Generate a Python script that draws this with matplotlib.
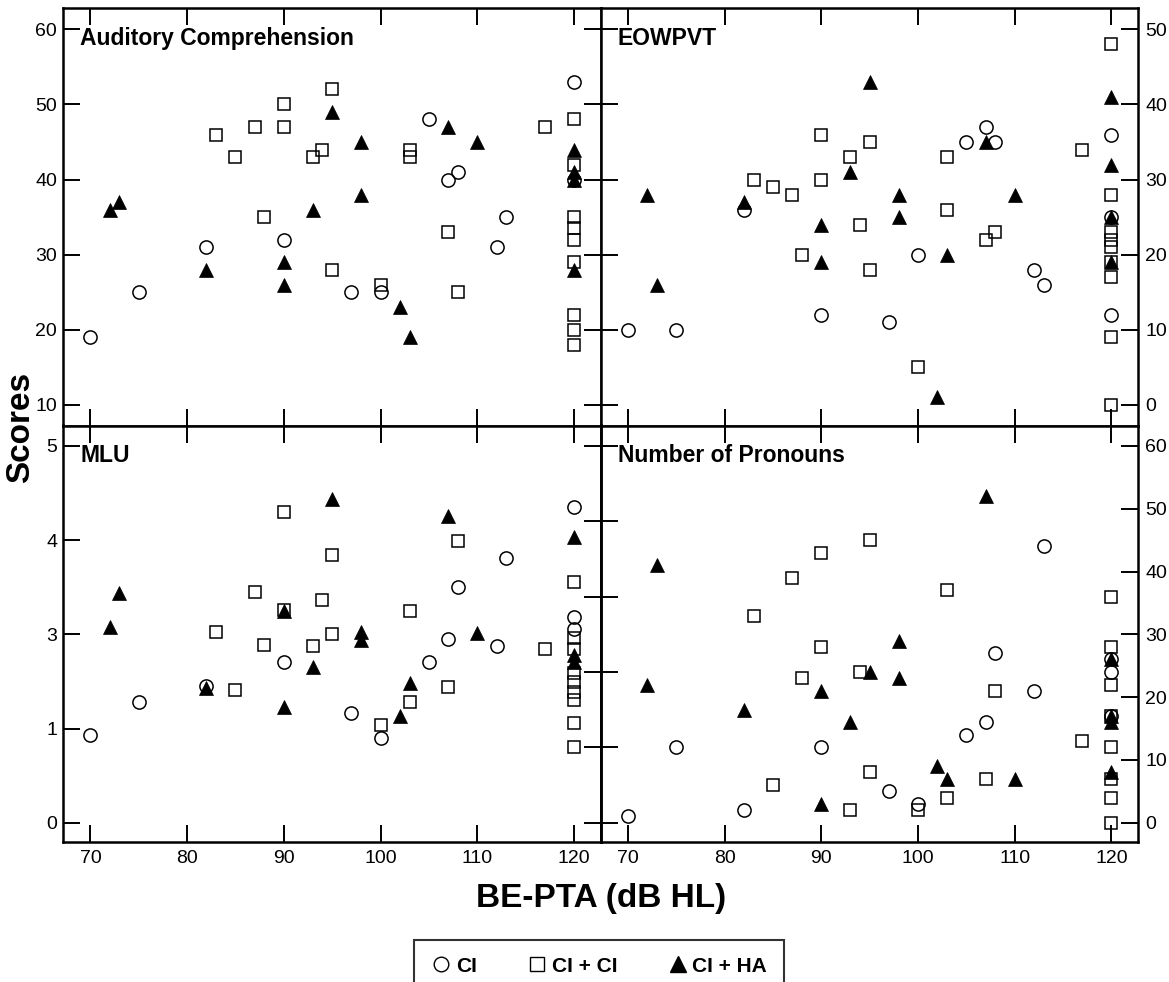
import matplotlib
matplotlib.use("Agg")
import matplotlib.pyplot as plt
from matplotlib.lines import Line2D

plt.rcParams['font.family'] = ['Liberation Sans', 'DejaVu Sans']

x_ticks = [70, 80, 90, 100, 110, 120]
group_labels = ['CI', 'CI + CI', 'CI + HA']

# x positions (BE-PTA) per group, shared by the four measures
ci_x = [70, 75, 82, 90, 97, 100, 105, 107, 108, 112, 113, 120, 120, 120]
cc_x = [83, 85, 87, 88, 90, 90, 93, 94, 95, 95, 100, 103, 103, 107, 108, 117,
        120, 120, 120, 120, 120, 120, 120, 120, 120]
ha_x = [72, 73, 82, 90, 90, 93, 95, 98, 98, 102, 103, 107, 110,
        120, 120, 120, 120]

# Auditory Comprehension
ac_ci = [19, 25, 31, 32, 25, 25, 48, 40, 41, 31, 35, 53, 40]
ac_cc = [46, 43, 47, 35, 50, 47, 43, 44, 52, 28, 26, 44, 43, 33, 25, 47,
         48, 42, 35, 33.6, 32, 29, 22, 20, 18]
ac_ha = [36, 37, 28, 29, 26, 36, 49, 45, 38, 23, 19, 47, 45, 44, 41, 40, 28]

# EOWPVT
eo_ci = [10, 10, 26, 12, 11, 20, 35, 37, 35, 18, 16, 36, 25, 12]
eo_cc = [30, 29, 28, 20, 36, 30, 33, 24, 35, 18, 5, 33, 26, 22, 23, 34,
         48, 28, 23, 22, 21, 19, 17, 9, 0]
eo_ha = [28, 16, 27, 24, 19, 31, 43, 28, 25, 1, 20, 35, 28, 41, 32, 25, 19]

# MLU
mlu_ci = [1.17, 1.60, 1.82, 2.13, 1.46, 1.13, 2.13, 2.44, 3.13, 2.34, 3.51,
          4.19, 2.73, 2.57]
mlu_cc = [2.53, 1.76, 3.06, 2.36, 4.13, 2.82, 2.35, 2.96, 3.55, 2.51, 1.30,
          2.81, 1.60, 1.80, 3.74, 2.30,
          3.20, 2.45, 2.30, 1.99, 1.87, 1.74, 1.63, 1.33, 1.00]
mlu_ha = [2.60, 3.05, 1.79, 2.81, 1.54, 2.07, 4.30, 2.53, 2.43, 1.42, 1.85,
          4.07, 2.52, 3.79, 2.23, 2.13]
mlu_ha_x = [72, 73, 82, 90, 90, 93, 95, 98, 98, 102, 103, 107, 110, 120, 120, 120]

# Number of Pronouns
np_ci = [1, 12, 2, 12, 5, 3, 14, 16, 27, 21, 44, 26, 24, 17]
np_cc = [33, 6, 39, 23, 43, 28, 2, 24, 45, 8, 2, 4, 37, 7, 21, 13,
         36, 28, 22, 17, 12, 7, 4, 0]
np_cc_x = cc_x[:-1]
np_ha = [22, 41, 18, 21, 3, 16, 24, 29, 23, 9, 7, 52, 7, 26, 17, 16, 8]

# axis scales
ac_ticks = [10, 20, 30, 40, 50, 60]
eo_ticks = [0, 10, 20, 30, 40, 50]
mlu_left_ticks = [0, 1.25, 2.5, 3.75, 5]
mlu_left_labels = ['0', '1', '3', '4', '5']
mlu_right_ticks = [0, 1, 2, 3, 4, 5]
np_ticks = [0, 10, 20, 30, 40, 50, 60]
np_left_ticks = [0, 12, 24, 36, 48, 60]

W, H = 1169, 982
fig = plt.figure(figsize=(W / 100, H / 100), dpi=100)

colx = [63.3 / W, 601 / W]
colw = [537.7 / W, 537.4 / W]
rowy = [1 - 425.5 / H, 1 - 842 / H]
rowh = [417.5 / H, 416.5 / H]

TL = 12
TW = 1.4
SW = 1.8


def make_axes(c, r):
    ax = fig.add_axes([colx[c], rowy[r], colw[c], rowh[r]])
    ax.set_xlim(67.2, 122.8)
    ax.set_xticks(x_ticks)
    ax.tick_params(axis='both', direction='in', length=TL, width=TW,
                   labelsize=14)
    ax.tick_params(axis='x', top=True, bottom=True, pad=6,
                   labelbottom=(r == 1))
    for s in ax.spines.values():
        s.set_linewidth(SW)
    return ax


def draw(ax, cx, cy, sx, sy, tx, ty):
    ax.plot(cx, cy, 'o', ls='none', ms=9.5, mfc='none', mec='black', mew=1.1)
    ax.plot(sx, sy, 's', ls='none', ms=9, mfc='none', mec='black', mew=1.1)
    ax.plot(tx, ty, '^', ls='none', ms=10, mfc='black', mec='black', mew=0.5)


def title(ax, text):
    ax.text(17 / 537.5, 0.928, text, transform=ax.transAxes, ha='left',
            va='center', fontsize=16.5, fontweight='bold')


def side_ticks(ax, where, ticks):
    sec = ax.secondary_yaxis(where)
    sec.set_yticks(ticks)
    sec.tick_params(direction='in', length=TL, width=TW,
                    labelleft=False, labelright=False)
    sec.spines[where].set_linewidth(SW)
    return sec


# Auditory Comprehension
ax1 = make_axes(0, 0)
ax1.set_ylim(7.27, 62.84)
ax1.set_yticks(ac_ticks)
ax1.tick_params(axis='y', left=True, right=True, labelleft=True,
                labelright=False, pad=4.5)
draw(ax1, ci_x[:-1], ac_ci, cc_x, ac_cc, ha_x, ac_ha)
title(ax1, 'Auditory Comprehension')

# EOWPVT
ax2 = make_axes(1, 0)
ax2.set_ylim(-2.73, 52.84)
ax2.set_yticks(eo_ticks)
ax2.tick_params(axis='y', left=True, right=True, labelleft=False,
                labelright=True, pad=5)
draw(ax2, ci_x, eo_ci, cc_x, eo_cc, ha_x, eo_ha)
title(ax2, 'EOWPVT')

# MLU
ax3 = make_axes(0, 1)
ax3.set_ylim(-0.256, 5.272)
ax3.set_yticks(mlu_left_ticks)
ax3.set_yticklabels(mlu_left_labels)
ax3.tick_params(axis='y', left=True, right=False, pad=4.5)
side_ticks(ax3, 'right', mlu_right_ticks)
draw(ax3, ci_x, mlu_ci, cc_x, mlu_cc, mlu_ha_x, mlu_ha)
title(ax3, 'MLU')

# Number of Pronouns
ax4 = make_axes(1, 1)
ax4.set_ylim(-3.07, 63.26)
ax4.set_yticks(np_ticks)
ax4.tick_params(axis='y', left=False, right=True, labelleft=False,
                labelright=True, pad=5)
side_ticks(ax4, 'left', np_left_ticks)
draw(ax4, ci_x, np_ci, np_cc_x, np_cc, ha_x, np_ha)
title(ax4, 'Number of Pronouns')

fig.text(21 / W, 1 - 427 / H, 'Scores', rotation=90, ha='center',
         va='center', fontsize=24, fontweight='bold')
fig.text(601 / W, 1 - 898 / H, 'BE-PTA (dB HL)', ha='center', va='center',
         fontsize=24, fontweight='bold')

handles = [
    Line2D([], [], marker='o', ls='none', ms=10.5, mfc='none', mec='black', mew=1.0),
    Line2D([], [], marker='s', ls='none', ms=10, mfc='none', mec='black', mew=1.0),
    Line2D([], [], marker='^', ls='none', ms=11.5, mfc='black', mec='black'),
]
leg = fig.legend(handles, group_labels, loc='upper center',
                 bbox_to_anchor=(599 / W, 1 - 940 / H), ncol=3,
                 frameon=True, fancybox=False, edgecolor='black',
                 prop={'weight': 'bold', 'size': 15}, handletextpad=0.2,
                 columnspacing=2.4, borderpad=0.8, borderaxespad=0,
                 handlelength=1.0)
leg.get_frame().set_linewidth(1.5)

fig.savefig('out.png', dpi=100, facecolor='white')
